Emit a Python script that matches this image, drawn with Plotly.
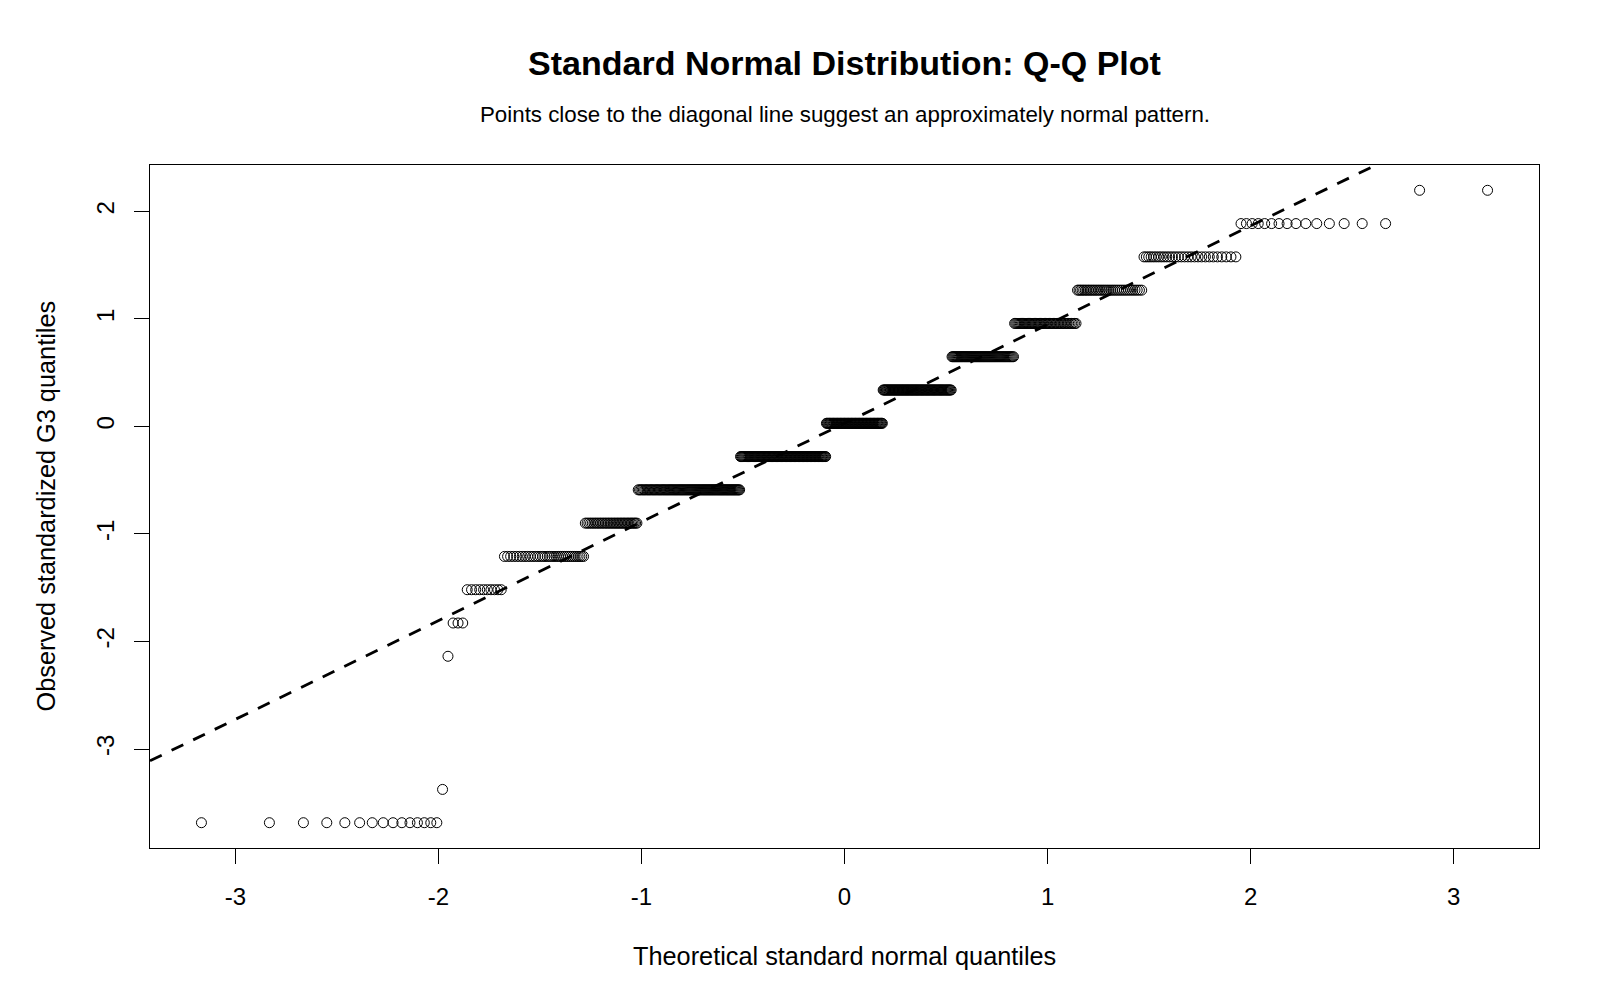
import numpy as np
import plotly.graph_objects as go
from statistics import NormalDist

# Final grade (G3) values and how many students have each value
g3_values = [0, 1, 5, 6, 7, 8, 9, 10, 11, 12, 13, 14, 15, 16, 17, 18, 19]
g3_counts = [15, 1, 1, 3, 10, 35, 35, 97, 104, 72, 82, 63, 49, 36, 29, 15, 2]

x_ticks = [-3, -2, -1, 0, 1, 2, 3]
y_ticks = [-3, -2, -1, 0, 1, 2]

title_text = "Standard Normal Distribution: Q-Q Plot"
subtitle_text = "Points close to the diagonal line suggest an approximately normal pattern."
x_title = "Theoretical standard normal quantiles"
y_title = "Observed standardized G3 quantiles"

# ---- Q-Q computation (as R's qqnorm / qqline) ----
g3 = np.repeat(np.array(g3_values, float), g3_counts)
z = (g3 - g3.mean()) / g3.std(ddof=1)
z_sorted = np.sort(z)
n = len(z_sorted)
nd = NormalDist()
theo = np.array([nd.inv_cdf((i - 0.5) / n) for i in range(1, n + 1)])

q_obs = np.quantile(z, [0.25, 0.75])  # R type 7
q_th = np.array([nd.inv_cdf(0.25), nd.inv_cdf(0.75)])
slope = (q_obs[1] - q_obs[0]) / (q_th[1] - q_th[0])
intercept = q_obs[0] - slope * q_th[0]

def r_range(v):
    lo, hi = float(np.min(v)), float(np.max(v))
    d = (hi - lo) * 0.04
    return [lo - d, hi + d]

xr = r_range(theo)
yr = r_range(z_sorted)

line_x = np.array(xr)
line_y = intercept + slope * line_x

FONT = "Liberation Sans, Arial, sans-serif"

fig = go.Figure()
fig.add_trace(go.Scatter(
    x=theo, y=z_sorted, mode="markers",
    marker=dict(symbol="circle-open", size=10, color="black",
                line=dict(width=1, color="black")),
    hoverinfo="x+y", showlegend=False, cliponaxis=True,
))
fig.add_trace(go.Scatter(
    x=line_x, y=line_y, mode="lines",
    line=dict(color="black", width=2.8, dash="13px,11px"),
    showlegend=False, hoverinfo="skip",
))

fig.update_layout(
    width=1600, height=1000,
    paper_bgcolor="white", plot_bgcolor="white",
    margin=dict(l=150, r=61, t=165, b=152),
    font=dict(family=FONT, color="black", size=24),
    title=dict(text="<b>" + title_text + "</b>", x=0.5, xref="paper",
               y=1 - 63 / 1000, yref="container", yanchor="middle",
               xanchor="center", font=dict(size=34, family=FONT, color="black")),
    xaxis=dict(range=xr, tickvals=x_ticks, ticktext=[str(t) for t in x_ticks],
               ticks="outside", ticklen=15, tickwidth=1.3, tickcolor="black",
               showgrid=False, zeroline=False, showline=True, linecolor="black",
               linewidth=1.3, mirror=True, tickfont=dict(size=24),
               ticklabelstandoff=12),
    yaxis=dict(range=yr, tickvals=y_ticks, ticktext=[str(t) for t in y_ticks],
               ticks="outside", ticklen=15, tickwidth=1.3, tickcolor="black",
               showgrid=False, zeroline=False, showline=True, linecolor="black",
               linewidth=1.3, mirror=True, tickfont=dict(size=24), tickangle=-90,
               ticklabelstandoff=10),
    annotations=[
        dict(text=subtitle_text, xref="paper", yref="paper", x=0.5,
             y=(848 - 114) / (848 - 165), xanchor="center", yanchor="middle",
             showarrow=False, font=dict(size=22.3, family=FONT, color="black")),
        dict(text=x_title, xref="paper", yref="paper", x=0.5,
             y=-(956 - 848) / (848 - 165), xanchor="center", yanchor="middle",
             showarrow=False, font=dict(size=25.3, family=FONT, color="black")),
        dict(text=y_title, xref="paper", yref="paper",
             x=-(150 - 45) / (1539 - 150), y=0.5, xanchor="center",
             yanchor="middle", textangle=-90, showarrow=False,
             font=dict(size=25.3, family=FONT, color="black")),
    ],
)

fig.write_html("out.html")
